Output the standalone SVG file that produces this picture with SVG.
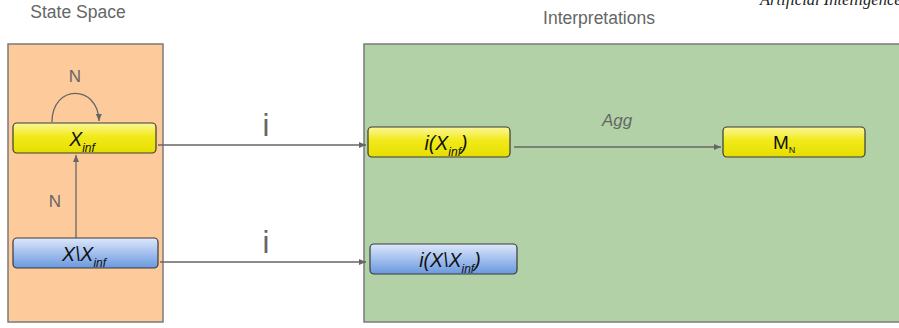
<svg xmlns="http://www.w3.org/2000/svg" width="899" height="328" viewBox="0 0 899 328">
<defs>
<linearGradient id="gy" x1="0" y1="0" x2="0" y2="1">
<stop offset="0" stop-color="#fbf79a"/><stop offset="0.45" stop-color="#f1ea1a"/><stop offset="1" stop-color="#e6de00"/>
</linearGradient>
<linearGradient id="gb" x1="0" y1="0" x2="0" y2="1">
<stop offset="0" stop-color="#dde8fb"/><stop offset="1" stop-color="#6a98df"/>
</linearGradient>
<marker id="ah" markerWidth="8" markerHeight="8" refX="7" refY="4" orient="auto" markerUnits="userSpaceOnUse">
<path d="M0,1 L7,4 L0,7 Z" fill="#666"/>
</marker>
<style>
.panel{stroke:#7a7a7a;stroke-width:1.5}
.node{stroke:#3a3a3a;stroke-width:1.2}
.yel{fill:url(#gy)}
.blu{fill:url(#gb)}
.title{font-family:"Liberation Sans",Arial,sans-serif;font-size:17.5px;fill:#666}
.lbl{font-family:"Liberation Sans",Arial,sans-serif;fill:#666}
.nt{font-family:"Liberation Sans",Arial,sans-serif;font-style:italic;font-size:19.5px;fill:#111}
.sub{font-size:12px}
.edge{stroke:#666;stroke-width:1.3;fill:none;marker-end:url(#ah)}
</style>
</defs>
<rect width="899" height="328" fill="#fff"/>
<text x="760" y="5" font-family="'Liberation Serif',serif" font-style="italic" font-size="16.5" fill="#222">Artificial Intelligence</text>
<g id="state-space">
<rect class="panel" x="8" y="44" width="155" height="278" fill="#fdca9b"/>
<text class="title" x="78" y="18" text-anchor="middle">State Space</text>
</g>
<g id="interpretations">
<rect class="panel" x="364" y="44" width="540" height="278" fill="#b2d1a6"/>
<text class="title" x="599" y="24" text-anchor="middle">Interpretations</text>
</g>
<g id="connectors">
<path class="edge" d="M52,122 C52,84 98,84 99,121"/>
<text class="lbl" x="75" y="82" text-anchor="middle" font-size="17">N</text>
<path class="edge" d="M76,238 L76,155"/>
<text class="lbl" x="55" y="207" text-anchor="middle" font-size="17">N</text>
<path class="edge" d="M158,145 L366,145"/>
<text class="lbl" x="266" y="136" text-anchor="middle" font-size="31">i</text>
<path class="edge" d="M160,262 L366,262"/>
<text class="lbl" x="266" y="253" text-anchor="middle" font-size="31">i</text>
<path class="edge" d="M514,147 L721,147"/>
<text class="lbl" x="617" y="126" text-anchor="middle" font-size="17" font-style="italic">Agg</text>
</g>
<g id="x-inf">
<rect class="node yel" x="13" y="123" width="143" height="30" rx="4"/>
<text class="nt" x="82" y="146" text-anchor="middle">X<tspan class="sub" dy="6">inf</tspan></text>
</g>
<g id="x-minus-x-inf">
<rect class="node blu" x="13" y="238" width="145" height="30" rx="4"/>
<text class="nt" x="84" y="261" text-anchor="middle">X\X<tspan class="sub" dy="6">inf</tspan></text>
</g>
<g id="i-x-inf">
<rect class="node yel" x="368" y="127" width="142" height="30" rx="4"/>
<text class="nt" x="446" y="150" text-anchor="middle">i(X<tspan class="sub" dy="6">inf</tspan><tspan dy="-6">)</tspan></text>
</g>
<g id="i-x-minus-x-inf">
<rect class="node blu" x="370" y="244" width="147" height="30" rx="4"/>
<text class="nt" x="450" y="267" text-anchor="middle">i(X\X<tspan class="sub" dy="6">inf</tspan><tspan dy="-6">)</tspan></text>
</g>
<g id="m-n">
<rect class="node yel" x="723" y="127" width="142" height="30" rx="4"/>
<text x="773" y="149" font-family="'Liberation Sans',Arial,sans-serif" font-size="19" fill="#111">M<tspan font-size="9" dy="4">N</tspan></text>
</g>
</svg>
